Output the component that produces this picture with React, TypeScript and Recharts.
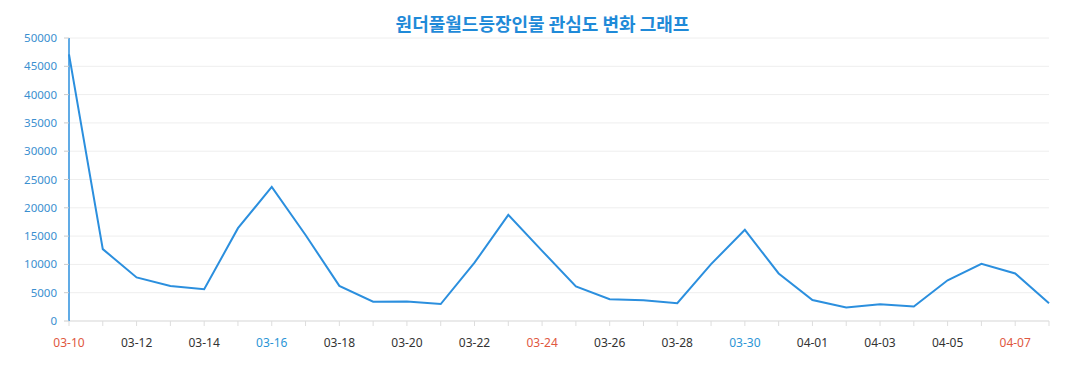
import React from 'react';
import { LineChart, Line, XAxis, YAxis, CartesianGrid } from 'recharts';

const dates = [
  '03-10', '03-11', '03-12', '03-13', '03-14', '03-15', '03-16', '03-17', '03-18', '03-19',
  '03-20', '03-21', '03-22', '03-23', '03-24', '03-25', '03-26', '03-27', '03-28', '03-29',
  '03-30', '03-31', '04-01', '04-02', '04-03', '04-04', '04-05', '04-06', '04-07', '04-08',
];
const interest = [
  47100, 12700, 7700, 6200, 5600, 16400, 23700, 15200, 6200, 3400,
  3450, 3000, 10300, 18750, 12400, 6100, 3850, 3650, 3150, 10050,
  16100, 8400, 3700, 2400, 2950, 2550, 7200, 10100, 8400, 3150,
];
const yTicks = [0, 5000, 10000, 15000, 20000, 25000, 30000, 35000, 40000, 45000, 50000];
const sundays = ['03-10', '03-17', '03-24', '03-31', '04-07'];
const saturdays = ['03-16', '03-23', '03-30', '04-06'];
const title = '원더풀월드등장인물 관심도 변화 그래프';

const data = dates.map((d, i) => ({ date: d, value: interest[i] }));

const XTick = (props: any) => {
  const { x, y, payload, index } = props;
  if (index % 2 !== 0) return <g />;
  const label = payload.value as string;
  let fill = '#333333';
  if (sundays.includes(label)) fill = '#e0583f';
  else if (saturdays.includes(label)) fill = '#2b95d6';
  return (
    <text x={x} y={y} dy="0.71em" textAnchor="middle" fill={fill} fontSize={12} fontFamily="'Noto Sans', 'Open Sans', sans-serif">
      {label}
    </text>
  );
};

export default function App() {
  return (
    <div style={{ position: 'absolute', left: 0, top: 0, width: 1077, height: 390, background: '#fff' }}>
      <div
        style={{
          position: 'absolute',
          left: 0,
          top: 11,
          width: 1085,
          textAlign: 'center',
          fontFamily: "'Noto Sans CJK KR', sans-serif",
          fontWeight: 700,
          fontSize: 18,
          lineHeight: '24px',
          color: '#1f8ad8',
        }}
      >
        {title}
      </div>
      <LineChart width={1077} height={390} data={data} margin={{ top: 38, right: 28, bottom: 0, left: 0 }}>
        <CartesianGrid vertical={false} stroke="#eeeeee" />
        <XAxis
          dataKey="date"
          interval={0}
          height={69}
          tickSize={5}
          tickMargin={12}
          stroke="#dddddd"
          tickLine={{ stroke: '#dddddd' }}
          axisLine={{ stroke: '#dddddd' }}
          tick={<XTick />}
        />
        <YAxis
          width={69}
          domain={[0, 50000]}
          ticks={yTicks}
          interval={0}
          tickSize={5}
          tickMargin={7}
          axisLine={{ stroke: '#2b8fde', strokeWidth: 1.5 }}
          tickLine={{ stroke: '#cccccc' }}
          tick={{ fill: '#3a8fd0', fontSize: 11.5, fontFamily: "'Noto Sans', 'Open Sans', sans-serif" }}
        />
        <Line
          type="linear"
          dataKey="value"
          stroke="#2b8fde"
          strokeWidth={2}
          dot={false}
          isAnimationActive={false}
        />
      </LineChart>
    </div>
  );
}
